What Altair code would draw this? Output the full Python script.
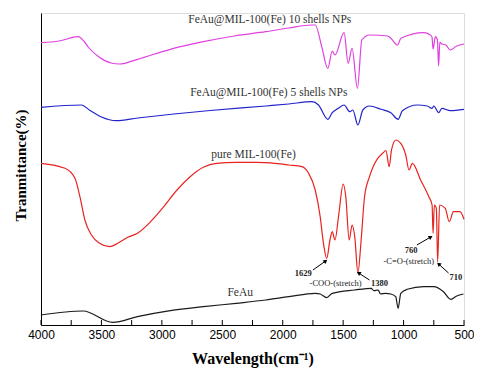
import altair as alt
import pandas as pd

# ---- spectra (wavenumber cm-1, transmittance in arbitrary units) ----
wn_10 = [4000, 3850, 3692, 3640, 3610, 3520, 3420, 3351, 3202, 2930, 2657, 2400, 2140, 1950,
         1758, 1731, 1677, 1627, 1590, 1568, 1492, 1459, 1426, 1382, 1345, 1282, 1132, 1105,
         1050, 1022, 833, 779, 765, 756, 737, 720, 710, 700, 683, 650, 614, 560, 500]
tr_10 = [282.3, 284, 288.3, 283, 278, 268, 262, 261, 265.7, 275.7, 283.3, 289, 293.3, 297,
         300, 300, 278.3, 256.5, 274, 270, 292.3, 261.7, 276.7, 236.7, 285, 290, 289, 286.7,
         280, 286.7, 292.3, 290, 288, 276, 288.3, 285, 259, 283, 281, 280, 275, 279, 281]

wn_5 = [4000, 3665, 3600, 3500, 3379, 3200, 2900, 2600, 2140, 1950, 1758, 1704, 1627, 1590,
        1541, 1492, 1445, 1420, 1378, 1337, 1282, 1186, 1105, 1045, 1010, 886, 804, 764, 750,
        710, 683, 614, 500]
tr_5 = [217.7, 220, 215, 208, 204.3, 207, 211, 214.5, 219, 221, 223.3, 220, 205.7, 212.3,
        216.7, 220, 213.3, 215, 200, 215, 219, 215.7, 212.3, 205.7, 214.3, 220, 219, 216.7, 219,
        212.3, 216.7, 214.3, 215.7]

wn_mil = [4000, 3801, 3719, 3678, 3637, 3583, 3515, 3433, 3365, 3283, 3202, 3093, 2984, 2875,
          2766, 2657, 2548, 2385, 2221, 2140, 1949, 1840, 1786, 1731, 1690, 1663, 1636, 1609,
          1590, 1568, 1535, 1500, 1478, 1450, 1426, 1404, 1378, 1351, 1323, 1282, 1214, 1173,
          1146, 1119, 1100, 1064, 1023, 982, 955, 927, 859, 791, 764, 756, 745, 729, 718, 702,
          655, 622, 587, 533, 500]
tr_mil = [161.7, 156.7, 146.7, 128.3, 105, 90, 81.7, 78.3, 81.7, 87.7, 91.7, 103.3, 118.3, 135,
          148.3, 157.7, 161.7, 162.7, 162.7, 162.3, 160, 158.3, 151.7, 135, 108.3, 81.7, 66.7, 85,
          93.3, 85, 111.7, 141, 128.3, 85, 100, 88.3, 52.3, 85, 128.3, 148.3, 166.7, 171.7,
          174.3, 158.3, 175, 185, 181.7, 170, 155, 161.7, 145, 128.3, 120, 91.7, 120, 116.7, 63.3, 120,
          116.7, 103.3, 113.3, 113.3, 105.7]

wn_feau = [4000, 3651, 3406, 3202, 2930, 2657, 2385, 2140, 1949, 1731, 1690, 1636, 1590, 1404,
           1268, 1246, 1210, 1191, 1150, 1105, 1065, 1045, 1023, 970, 833, 751, 670, 610, 560, 505]
tr_feau = [10, 14, 2.7, 8.3, 14.3, 18.3, 21.7, 25, 28.3, 31.7, 31, 27.3, 31.7, 35,
           36.7, 34.3, 35, 31, 31.7, 31, 28.3, 16.7, 31.7, 35.7, 38.3, 38.3, 33.3, 25.7, 29, 31]

series_names = ["10 shells", "5 shells", "pure MIL", "FeAu"]
series_colors = ["#e040e0", "#2323cc", "#e8231f", "#1a1a1a"]

# ---- text ----
curve_label_text = ["FeAu@MIL-100(Fe) 10 shells NPs", "FeAu@MIL-100(Fe) 5 shells NPs",
                    "pure MIL-100(Fe)", "FeAu"]
curve_label_wn = [2107, 2115, 2242, 2352]
curve_label_tr = [305, 231.7, 170, 31.7]

peak_text = ["1629", "1380", "760", "710"]
peak_wn = [1830, 1200, 938, 567]
peak_tr = [52, 42, 75, 48]

mode_text = ["-COO-(stretch)", "-C=O-(stretch)"]
mode_wn = [1563, 957]
mode_tr = [41.7, 64]

arrow_wn_start = [1750, 1282, 890, 628]
arrow_tr_start = [55, 45, 80, 52]
arrow_wn_end = [1645, 1372, 775, 710]
arrow_tr_end = [64, 52, 88, 61]
arrow_angle = [52, 302, 60, 312]

tick_values = [4000, 3500, 3000, 2500, 2000, 1500, 1000, 500]
minor_ticks = [4000, 3750, 3500, 3250, 3000, 2750, 2500, 2250, 2000, 1750, 1500, 1250,
               1000, 750, 500]

# ---- build tables ----
rows = []
for name, wn, tr in zip(series_names, [wn_10, wn_5, wn_mil, wn_feau],
                        [tr_10, tr_5, tr_mil, tr_feau]):
    for i, (w, t) in enumerate(zip(wn, tr)):
        rows.append({"series": name, "w": w, "T": t, "i": i})
df = pd.DataFrame(rows)

xscale = alt.Scale(domain=[500, 4000], reverse=True, nice=False, zero=False)
yscale = alt.Scale(domain=[0, 312], nice=False, zero=False)

xaxis = alt.Axis(values=tick_values, format="d", labelFont="Liberation Sans",
                 labelFontSize=12, labelColor="black", tickSize=0, labelPadding=4,
                 labelFlush=False, grid=False, domainColor="black",
                 title="Wavelength(cm⁻¹)", titleFont="Liberation Serif",
                 titleFontSize=16, titleFontWeight="bold", titleColor="black",
                 titlePadding=10)
yaxis = alt.Axis(labels=False, ticks=False, grid=False, domainColor="black",
                 title="Tranmittance(%)", titleFont="Liberation Serif",
                 titleFontSize=15, titleFontWeight="bold", titleColor="black",
                 titlePadding=13, titleY=152)

lines = alt.Chart(df).mark_line(strokeWidth=1.2, interpolate="monotone").encode(
    x=alt.X("w:Q", scale=xscale, axis=xaxis),
    y=alt.Y("T:Q", scale=yscale, axis=yaxis),
    color=alt.Color("series:N", scale=alt.Scale(domain=series_names, range=series_colors),
                    legend=None),
    order="i:Q",
)

ticks_df = pd.DataFrame({"w": minor_ticks})
ticks = alt.Chart(ticks_df).mark_rule(color="black", strokeWidth=1).encode(
    x=alt.X("w:Q", scale=xscale), y=alt.value(312), y2=alt.value(307)
)

cl_df = pd.DataFrame({"w": curve_label_wn, "T": curve_label_tr, "t": curve_label_text})
curve_labels = alt.Chart(cl_df).mark_text(font="Liberation Serif", fontSize=11.5,
                                          color="#333333").encode(
    x=alt.X("w:Q", scale=xscale), y=alt.Y("T:Q", scale=yscale), text="t:N")

pk_df = pd.DataFrame({"w": peak_wn, "T": peak_tr, "t": peak_text})
peak_labels = alt.Chart(pk_df).mark_text(font="Liberation Serif", fontSize=8.5,
                                         fontWeight="bold", color="#222222").encode(
    x=alt.X("w:Q", scale=xscale), y=alt.Y("T:Q", scale=yscale), text="t:N")

md_df = pd.DataFrame({"w": mode_wn, "T": mode_tr, "t": mode_text})
mode_labels = alt.Chart(md_df).mark_text(font="Liberation Serif", fontSize=8.5,
                                         color="#222222").encode(
    x=alt.X("w:Q", scale=xscale), y=alt.Y("T:Q", scale=yscale), text="t:N")

ar_df = pd.DataFrame({"w": arrow_wn_start, "T": arrow_tr_start, "w2": arrow_wn_end,
                      "T2": arrow_tr_end, "a": arrow_angle})
arrow_lines = alt.Chart(ar_df).mark_rule(color="black", strokeWidth=1).encode(
    x=alt.X("w:Q", scale=xscale), y=alt.Y("T:Q", scale=yscale), x2="w2:Q", y2="T2:Q")
arrow_heads = alt.Chart(ar_df).mark_point(shape="triangle-up", filled=True, size=22,
                                          color="black", opacity=1).encode(
    x=alt.X("w2:Q", scale=xscale), y=alt.Y("T2:Q", scale=yscale),
    angle=alt.Angle("a:Q", scale=None))

chart = alt.layer(lines, ticks, arrow_lines, arrow_heads, curve_labels, peak_labels,
                  mode_labels).properties(
    width=423, height=312,
    autosize=alt.AutoSizeParams(type="none"),
    padding={"left": 33, "top": 5, "right": 10, "bottom": 44},
).configure_view(stroke="black", strokeWidth=1).configure(background="white")

chart.save("out.html", embed_options={"renderer": "svg", "actions": False})
